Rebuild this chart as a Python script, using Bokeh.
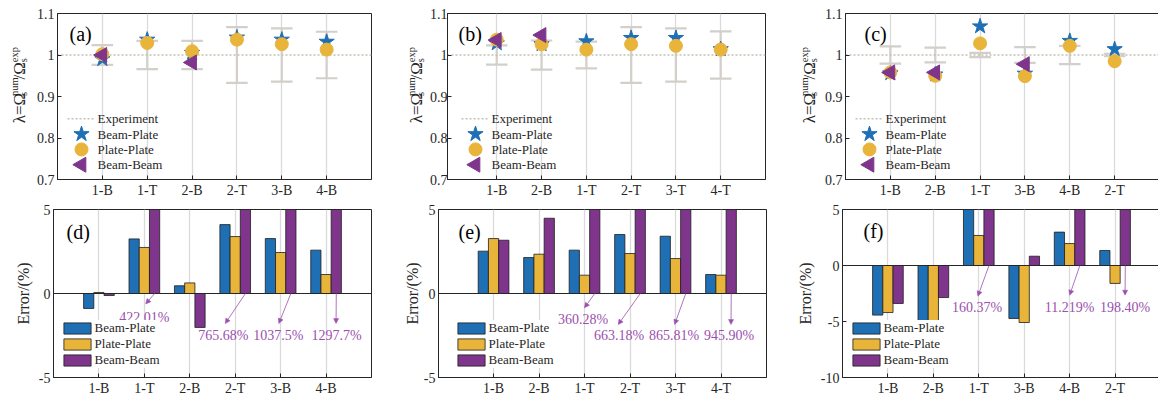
import numpy as np
from bokeh.plotting import figure
from bokeh.models import (Range1d, FixedTicker, CustomJSTickFormatter, Span, Label,
                          Arrow, NormalHead, Legend, LegendItem)
from bokeh.layouts import row, column
from bokeh.core.properties import value
from bokeh.embed import file_html
from bokeh.resources import INLINE

nan = float("nan")

# ---------------- data ----------------
cats_a = ["1-B", "1-T", "2-B", "2-T", "3-B", "4-B"]
cats_b = ["1-B", "2-B", "1-T", "2-T", "3-T", "4-T"]
cats_c = ["1-B", "2-B", "1-T", "3-B", "4-B", "2-T"]

lam_bp_a = [0.990, 1.037, 1.005, 1.042, 1.037, 1.032]
lam_pp_a = [1.002, 1.029, 1.009, 1.037, 1.026, 1.013]
lam_bb_a = [1.000, nan, 0.982, nan, nan, nan]
exp_err_a = [0.024, 0.034, 0.034, 0.067, 0.064, 0.056]

lam_bp_b = [1.028, 1.026, 1.033, 1.041, 1.041, 1.014]
lam_pp_b = [1.037, 1.026, 1.013, 1.026, 1.022, 1.013]
lam_bb_b = [1.036, 1.048, nan, nan, nan, nan]
exp_err_b = [0.023, 0.035, 0.032, 0.067, 0.064, 0.057]

lam_bp_c = [0.956, 0.953, 1.069, 0.955, 1.034, 1.014]
lam_pp_c = [0.958, 0.950, 1.028, 0.949, 1.022, 0.985]
lam_bb_c = [0.958, 0.958, nan, 0.978, nan, nan]
exp_err_c = [0.021, 0.018, 0.005, 0.019, 0.022, 0.003]

err_bp_d = [-0.89, 3.25, 0.46, 4.10, 3.27, 2.58]
err_pp_d = [0.06, 2.74, 0.63, 3.39, 2.44, 1.13]
err_bb_d = [-0.12, 422.01, -2.02, 765.68, 1037.5, 1297.7]
pct_d = ["", "422.01%", "", "765.68%", "1037.5%", "1297.7%"]

err_bp_e = [2.52, 2.14, 2.58, 3.51, 3.41, 1.13]
err_pp_e = [3.27, 2.34, 1.09, 2.38, 2.08, 1.09]
err_bb_e = [3.17, 4.48, 360.28, 663.18, 865.81, 945.90]
pct_e = ["", "", "360.28%", "663.18%", "865.81%", "945.90%"]

err_bp_f = [-4.43, -5.03, 6.90, -4.73, 2.98, 1.34]
err_pp_f = [-4.20, -5.00, 2.68, -5.09, 1.96, -1.60]
err_bb_f = [-3.39, -2.86, 160.37, 0.83, 11.219, 198.40]
pct_f = ["", "", "160.37%", "", "11.219%", "198.40%"]

top_ticks = [0.7, 0.8, 0.9, 1.0, 1.1]
series_names = ["Beam-Plate", "Plate-Plate", "Beam-Beam"]

# ---------------- style ----------------
FONT = "Liberation Serif"
BLUE = "#1f6fb5"
ORANGE = "#e9b43a"
PURPLE = "#7e358b"
ANNO = "#9b50ae"
AXC = "#262626"
GRID = "#dadada"
EBC = "#d3cfca"
EXPC = "#c2c2b2"

# frame boxes in window pixels; ox/ex = figure's left/right edge in the window
specs = {
    "a": dict(L=57, R=371, T=13, B=179, ox=30, ex=400, oy=0, H=201, xr=(0, 7), yr=(0.7, 1.1), so=3),
    "b": dict(L=445, R=763, T=13, B=179, ox=426, ex=790, oy=0, H=201, xr=(-0.1, 7), yr=(0.7, 1.1), so=0),
    "c": dict(L=843, R=1157, T=13, B=179, ox=816, ex=1158, oy=0, H=201, xr=(0, 7), yr=(0.7, 1.1), so=3),
    "d": dict(L=53, R=371, T=209, B=377, ox=0, ex=400, oy=201, H=200, xr=(0, 7), yr=(-5, 5), so=3),
    "e": dict(L=435, R=763, T=209, B=377, ox=400, ex=790, oy=201, H=200, xr=(-0.21, 7), yr=(-5, 5), so=3),
    "f": dict(L=839, R=1157, T=209, B=377, ox=790, ex=1158, oy=201, H=200, xr=(0, 7), yr=(-10, 5), so=3),
}


def px2x(s, px):
    x0, x1 = s["xr"]
    return x0 + (px - s["L"]) / (s["R"] - s["L"]) * (x1 - x0)


def py2y(s, py):
    y0, y1 = s["yr"]
    return y1 - (py - s["T"]) / (s["B"] - s["T"]) * (y1 - y0)


def base_fig(s, cats, yticks):
    p = figure(frame_width=s["R"] - s["L"], frame_height=s["B"] - s["T"],
               min_border_left=s["L"] - s["ox"], min_border_right=s["ex"] - s["R"],
               min_border_top=s["T"] - s["oy"], min_border_bottom=s["oy"] + s["H"] - s["B"],
               x_range=Range1d(*s["xr"]), y_range=Range1d(*s["yr"]),
               output_backend="svg", toolbar_location=None, title=None,
               background_fill_color="white", border_fill_color="white",
               outline_line_color=AXC, outline_line_width=1)
    p.xaxis.ticker = FixedTicker(ticks=list(range(1, len(cats) + 1)))
    p.xaxis.formatter = CustomJSTickFormatter(args=dict(labels=cats),
                                              code="return labels[Math.round(tick)-1]")
    p.yaxis.ticker = FixedTicker(ticks=yticks)
    p.yaxis.formatter = CustomJSTickFormatter(code="return String(Math.round(tick*10)/10)")
    for ax in (p.xaxis[0], p.yaxis[0]):
        ax.major_tick_in = 4
        ax.major_tick_out = 0
        ax.minor_tick_line_color = None
        ax.axis_line_color = AXC
        ax.major_tick_line_color = AXC
        ax.major_label_text_font = FONT
        ax.major_label_text_font_size = "14px"
        ax.major_label_text_color = AXC
        ax.major_label_standoff = 3
    p.yaxis.major_label_standoff = s["so"]
    p.xgrid.grid_line_color = GRID
    p.xgrid.grid_line_width = 1.3
    p.ygrid.visible = False
    return p


def gutter(x0, x1, y0, y1):
    """Blank strip left of a panel that carries the composed y-axis title (window px coords)."""
    g = figure(width=x1 - x0, height=y1 - y0, x_range=Range1d(x0, x1), y_range=Range1d(y1, y0),
               x_axis_type=None, y_axis_type=None, min_border=0, outline_line_color=None,
               toolbar_location=None, output_backend="svg", title=None,
               background_fill_color="white", border_fill_color="white")
    return g


def lambda_ylabel(g, xb, y0):
    pieces = [(0, 0, "λ=Ω", "17px"), (-5, -33, "num", "10.5px"), (3.5, -33, "s", "10.5px"),
              (0, -53, "/Ω", "17px"), (-5, -74, "exp", "10.5px"), (3.5, -74, "s", "10.5px")]
    for dx, dy, t, fs in pieces:
        g.add_layout(Label(x=xb + dx, y=y0 + dy, text=t, angle=np.pi / 2,
                           text_font=FONT, text_font_size=fs, text_color=AXC,
                           text_align="left", text_baseline="alphabetic"))


def panel_letter(p, s, txt, px, py):
    p.add_layout(Label(x=px2x(s, px), y=py2y(s, py), text=txt, text_font=FONT,
                       text_font_size="20px", text_color="black",
                       text_align="left", text_baseline="middle"))


def top_panel(key, cats, bp, pp, bb, err, letter, letter_px, leg_off):
    s = specs[key]
    p = base_fig(s, cats, top_ticks)
    xs = np.arange(1, len(cats) + 1, dtype=float)
    e = np.array(err)
    p.segment(x0=xs, y0=1 - e, x1=xs, y1=1 + e, line_color=EBC, line_width=2.2)
    p.segment(x0=xs - 0.24, y0=1 + e, x1=xs + 0.24, y1=1 + e, line_color=EBC, line_width=2.2)
    p.segment(x0=xs - 0.24, y0=1 - e, x1=xs + 0.24, y1=1 - e, line_color=EBC, line_width=2.2)
    p.line(x=list(s["xr"]), y=[1, 1], line_color=EXPC, line_width=1.5, line_dash="2 2")
    p.scatter(xs, bp, marker="star", size=16, color=BLUE)
    p.scatter(xs, pp, marker="circle", size=13, color=ORANGE)
    p.scatter(xs, bb, marker="triangle", angle=np.pi / 2, size=15, color=PURPLE)
    # legend (drawn manually so the markers keep their size)
    lx = s["L"] + leg_off
    rows_y = [118.3, 133.6, 148.9, 164.2]
    p.line(x=[px2x(s, lx), px2x(s, lx + 26)], y=[py2y(s, rows_y[0])] * 2,
           line_color=EXPC, line_width=1.5, line_dash="2 2")
    mx = px2x(s, lx + 14)
    p.scatter([mx], [py2y(s, rows_y[1])], marker="star", size=16, color=BLUE)
    p.scatter([mx], [py2y(s, rows_y[2])], marker="circle", size=13, color=ORANGE)
    p.scatter([mx], [py2y(s, rows_y[3])], marker="triangle", angle=np.pi / 2, size=15, color=PURPLE)
    p.text(x=[px2x(s, lx + 30)] * 4, y=[py2y(s, v) for v in rows_y],
           text=["Experiment"] + series_names, text_font=value(FONT), text_font_size="13px",
           text_color=AXC, text_align="left", text_baseline="middle")
    panel_letter(p, s, letter, letter_px[0], letter_px[1])
    return p


def bottom_panel(key, cats, bp, pp, bb, pct, anno, letter, letter_px, leg_off, yticks, lab_standoff):
    s = specs[key]
    p = base_fig(s, cats, yticks)
    xs = np.arange(1, len(cats) + 1, dtype=float)
    w = 0.225
    rs = []
    for off, vals, col in ((-w, bp, BLUE), (0.0, pp, ORANGE), (w, bb, PURPLE)):
        rs.append(p.vbar(x=xs + off, top=vals, bottom=0, width=w, fill_color=col,
                         line_color="#1e1e1e", line_width=0.8))
    p.add_layout(Span(location=0, dimension="width", line_color=AXC, line_width=1))
    tx, ty, tt = [], [], []
    for (i, txp, typ, axp, ayp) in anno:
        tx.append(txp)
        ty.append(typ)
        tt.append(pct[i])
        p.add_layout(Arrow(x_start=xs[i] + w, y_start=0, x_end=axp, y_end=ayp,
                           line_color=ANNO, line_width=0.8,
                           end=NormalHead(size=5, fill_color=ANNO, line_color=ANNO, line_width=0.5)))
    p.text(x=tx, y=ty, text=tt, text_font=value(FONT), text_font_size="14px",
           text_color=ANNO, text_align="center", text_baseline="middle")
    leg = Legend(items=[LegendItem(label=n, renderers=[r]) for n, r in zip(series_names, rs)],
                 location=(leg_off, 9), padding=0, margin=0, spacing=0,
                 glyph_width=34, glyph_height=14, label_height=14, label_standoff=1,
                 label_text_font=FONT, label_text_font_size="13px", label_text_color=AXC,
                 border_line_alpha=0, background_fill_color="white", background_fill_alpha=1)
    p.add_layout(leg)
    panel_letter(p, s, letter, letter_px[0], letter_px[1])
    p.yaxis.axis_label = "Error/(%)"
    p.yaxis.axis_label_text_font = FONT
    p.yaxis.axis_label_text_font_size = "16px"
    p.yaxis.axis_label_text_font_style = "normal"
    p.yaxis.axis_label_text_color = AXC
    p.yaxis.axis_label_standoff = lab_standoff
    return p


# annotation layout: (bar index, text x, text y, arrow tip x, arrow tip y) in data units
anno_d = [(1, 2.00, -1.45, 2.03, -0.62), (3, 3.74, -2.52, 3.78, -1.79),
          (4, 4.95, -2.52, 4.96, -1.79), (5, 6.23, -2.52, 6.22, -1.79)]
anno_e = [(2, 2.97, -1.53, 3.00, -0.85), (3, 3.76, -2.52, 3.74, -1.85),
          (4, 4.97, -2.52, 4.98, -1.85), (5, 6.18, -2.52, 6.22, -1.85)]
anno_f = [(2, 2.96, -3.79, 2.98, -2.74), (4, 5.00, -3.79, 5.00, -2.65),
          (5, 6.22, -3.79, 6.22, -2.65)]

ga = gutter(0, 30, 0, 201)
lambda_ylabel(ga, 19, 133)
gb = gutter(400, 426, 0, 201)
lambda_ylabel(gb, 416, 133)
gc = gutter(790, 816, 0, 201)
lambda_ylabel(gc, 807, 133)

pa = top_panel("a", cats_a, lam_bp_a, lam_pp_a, lam_bb_a, exp_err_a, "(a)", (69, 33), 10)
pb = top_panel("b", cats_b, lam_bp_b, lam_pp_b, lam_bb_b, exp_err_b, "(b)", (456, 33), 14)
pc = top_panel("c", cats_c, lam_bp_c, lam_pp_c, lam_bb_c, exp_err_c, "(c)", (862, 33), 10)
pd = bottom_panel("d", cats_a, err_bp_d, err_pp_d, err_bb_d, pct_d, anno_d, "(d)", (66, 231), 6.6, [-5, 0, 5], 4)
pe = bottom_panel("e", cats_b, err_bp_e, err_pp_e, err_bb_e, pct_e, anno_e, "(e)", (455, 231), 15.6, [-5, 0, 5], 0)
pf = bottom_panel("f", cats_c, err_bp_f, err_pp_f, err_bb_f, pct_f, anno_f, "(f)", (860, 230), 6.6, [-10, -5, 0, 5], 4)

layout = column(row(ga, pa, gb, pb, gc, pc, spacing=0), row(pd, pe, pf, spacing=0), spacing=0)
open("out.html", "w").write(file_html(layout, INLINE))
